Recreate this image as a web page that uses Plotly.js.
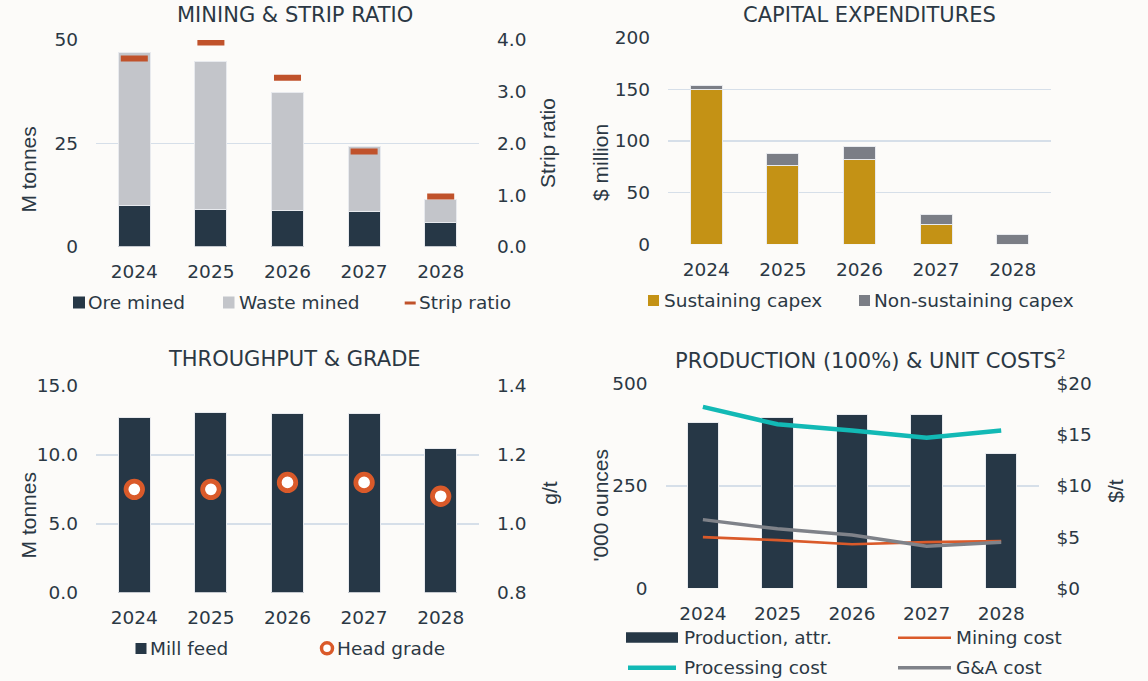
<!DOCTYPE html>
<html>
<head>
<meta charset="utf-8">
<script src="https://cdn.plot.ly/plotly-3.0.1.min.js"></script>
<style>html,body{margin:0;padding:0;background:#FCFBF9;}#chart{width:1148px;height:681px;}</style>
</head>
<body>
<div id="chart"></div>
<script>
// ---------- DATA ----------
const years = ['2024', '2025', '2026', '2027', '2028'];
const oreMined = [9.9, 9.0, 8.7, 8.5, 5.8];
const wasteMined = [37.0, 35.8, 28.6, 15.8, 5.7];
const stripRatio = [3.64, 3.95, 3.27, 1.84, 0.97];
const sustainingCapex = [150, 76.5, 82.3, 19, 0];
const nonSustainingCapex = [4.2, 11.5, 11.9, 10.3, 9.7];
const millFeed = [12.7, 13.1, 13.0, 13.0, 10.5];
const headGrade = [1.10, 1.10, 1.12, 1.12, 1.08];
const production = [405, 416, 423, 424, 328];
const miningCost = [5.0, 4.7, 4.3, 4.5, 4.6];
const processingCost = [17.7, 16.0, 15.4, 14.7, 15.4];
const gaCost = [6.7, 5.8, 5.2, 4.1, 4.5];

const chartTitles = ['MINING & STRIP RATIO', 'CAPITAL EXPENDITURES', 'THROUGHPUT & GRADE', 'PRODUCTION (100%) & UNIT COSTS<sup>2</sup>'];
const yTitles = ['M tonnes', 'Strip ratio', '$ million', 'M tonnes', 'g/t', "'000 ounces", '$/t'];

// ---------- STYLE ----------
const W = 1148, H = 681;
const X = v => v / W;
const Y = v => 1 - v / H;
const TXT = '#2B3844';
const GRID = '#D6DFE9';
const C_ORE = '#263746', C_WASTE = '#C3C5CA', C_STRIP = '#C0522B';
const C_SUST = '#C49215', C_NONS = '#7B7E86';
const C_TEAL = '#12B9B5', C_MINE = '#DA5A2A', C_GA = '#7F8289';
const FONT = 'DejaVu Sans, Liberation Sans, Arial, sans-serif';
const AFONT = 'Liberation Sans, Arial, sans-serif';
const tickfont = {family: FONT, size: 18.5, color: TXT};
const barLine = {width: 1, color: '#E8EAEE'};

const traces = [
  {type: 'bar', x: years, y: oreMined, xaxis: 'x', yaxis: 'y', marker: {color: C_ORE, line: barLine}, showlegend: false, name: 'Ore mined'},
  {type: 'bar', x: years, y: wasteMined, xaxis: 'x', yaxis: 'y', marker: {color: C_WASTE, line: barLine}, showlegend: false, name: 'Waste mined'},
  {type: 'scatter', mode: 'markers', x: years, y: stripRatio, xaxis: 'x', yaxis: 'y2', marker: {symbol: 'line-ew', size: 19.3, line: {width: 6, color: C_STRIP}}, showlegend: false, name: 'Strip ratio'},
  {type: 'bar', x: years, y: sustainingCapex, xaxis: 'x2', yaxis: 'y3', marker: {color: C_SUST, line: barLine}, showlegend: false, name: 'Sustaining capex'},
  {type: 'bar', x: years, y: nonSustainingCapex, xaxis: 'x2', yaxis: 'y3', marker: {color: C_NONS, line: barLine}, showlegend: false, name: 'Non-sustaining capex'},
  {type: 'bar', x: years, y: millFeed, xaxis: 'x3', yaxis: 'y4', marker: {color: C_ORE, line: barLine}, showlegend: false, name: 'Mill feed'},
  {type: 'scatter', mode: 'markers', x: years, y: headGrade, xaxis: 'x3', yaxis: 'y5', marker: {symbol: 'circle', size: 16.5, color: '#FFFFFF', line: {width: 4.8, color: C_MINE}}, showlegend: false, name: 'Head grade'},
  {type: 'bar', x: years, y: production, xaxis: 'x4', yaxis: 'y6', marker: {color: C_ORE, line: barLine}, showlegend: false, name: 'Production, attr.'},
  {type: 'scatter', mode: 'lines', x: years, y: miningCost, xaxis: 'x4', yaxis: 'y7', line: {color: C_MINE, width: 2.7}, showlegend: false, name: 'Mining cost'},
  {type: 'scatter', mode: 'lines', x: years, y: processingCost, xaxis: 'x4', yaxis: 'y7', line: {color: C_TEAL, width: 4.5}, showlegend: false, name: 'Processing cost'},
  {type: 'scatter', mode: 'lines', x: years, y: gaCost, xaxis: 'x4', yaxis: 'y7', line: {color: C_GA, width: 3.5}, showlegend: false, name: 'G&A cost'}
];

function xax(x0, x1, anchor) {
  return {domain: [X(x0), X(x1)], anchor: anchor, type: 'category', range: [-0.5, 4.5],
    showgrid: false, zeroline: false, showline: false, ticks: '', tickfont: tickfont, ticklabelstandoff: 12, fixedrange: true};
}
function yax(y0, y1, anchor, range, dtick, fmt, prefix) {
  return {domain: [Y(y1), Y(y0)], anchor: anchor, range: range, dtick: dtick, tick0: range[0], tickformat: fmt, tickprefix: prefix || '',
    showgrid: true, gridcolor: GRID, gridwidth: 1.6, zeroline: false, showline: false, ticks: '', tickfont: tickfont, ticklabelstandoff: 17, fixedrange: true};
}
function yaxR(overlay, anchor, range, dtick, fmt, prefix) {
  return {overlaying: overlay, anchor: anchor, side: 'right', range: range, dtick: dtick, tick0: range[0], tickformat: fmt, tickprefix: prefix || '',
    showgrid: false, zeroline: false, showline: false, ticks: '', tickfont: tickfont, ticklabelstandoff: 17, fixedrange: true};
}

const annotations = [];
function ann(text, x, y, opts) {
  annotations.push(Object.assign({text: text, x: X(x), y: Y(y), xref: 'paper', yref: 'paper', showarrow: false,
    xanchor: 'center', yanchor: 'middle', font: {family: FONT, size: 18.5, color: TXT}}, opts || {}));
}
// chart titles
const titleFont = {family: FONT, size: 21, color: TXT};
ann(chartTitles[0], 295, 14.5, {font: titleFont});
ann(chartTitles[1], 869.8, 14.5, {font: titleFont});
ann(chartTitles[2], 294.7, 358.5, {font: titleFont});
ann(chartTitles[3], 870.7, 358.5, {font: titleFont});
// axis titles
const axFont = {family: AFONT, size: 21, color: TXT};
ann(yTitles[0], 28.6, 170, {textangle: -90, font: axFont});
ann(yTitles[1], 547.6, 143.3, {textangle: -90, font: axFont});
ann(yTitles[2], 600.4, 162.5, {textangle: -90, font: axFont});
ann(yTitles[3], 28.6, 515.8, {textangle: -90, font: axFont});
ann(yTitles[4], 549.5, 493.3, {textangle: -90, font: axFont});
ann(yTitles[5], 599.6, 505, {textangle: -90, font: axFont});
ann(yTitles[6], 1116, 490.8, {textangle: -90, font: axFont});

// legends (swatch + label)
const shapes = [];
function rect(x0, y0, x1, y1, color) {
  shapes.push({type: 'rect', xref: 'paper', yref: 'paper', x0: X(x0), x1: X(x1), y0: Y(y1), y1: Y(y0), fillcolor: color, line: {width: 0}});
}
function legText(text, x, y) { ann(text, x, y, {xanchor: 'left'}); }
// top-left
rect(73, 296.5, 85, 308.5, C_ORE); legText(traces[0].name, 86, 302);
rect(223, 296.5, 234.5, 308.5, C_WASTE); legText(traces[1].name, 236.5, 302);
rect(404.7, 301.5, 415.7, 304.5, C_STRIP); legText(traces[2].name, 417, 302);
// top-right
rect(648, 295, 659, 306, C_SUST); legText(traces[3].name, 661.5, 300.5);
rect(859, 295, 870, 306, C_NONS); legText(traces[4].name, 872, 300.5);
// bottom-left
rect(135.5, 643, 146.5, 654, C_ORE); legText(traces[5].name, 148, 648.5);
shapes.push({type: 'circle', xref: 'paper', yref: 'paper', x0: X(321.5), x1: X(332.5), y0: Y(653.8), y1: Y(642.8), fillcolor: '#FFFFFF', line: {width: 3.5, color: C_MINE}});
legText(traces[6].name, 335, 648.5);
// bottom-right
rect(626, 632.3, 678, 642.7, C_ORE); legText(traces[7].name, 681.5, 637.5);
rect(898, 636.4, 951, 639, C_MINE); legText(traces[8].name, 953.5, 637.5);
shapes.push({type: 'line', xref: 'paper', yref: 'paper', x0: X(628), x1: X(676), y0: Y(667.7), y1: Y(667.7), line: {width: 4.5, color: C_TEAL}});
legText(traces[9].name, 681.5, 667.5);
rect(898, 665.9, 951, 669.5, C_GA); legText(traces[10].name, 953.5, 667.5);

const layout = {
  width: W, height: H, autosize: false,
  margin: {l: 0, r: 0, t: 0, b: 0, pad: 0},
  paper_bgcolor: '#FCFBF9', plot_bgcolor: 'rgba(0,0,0,0)',
  barmode: 'stack', bargap: 0.58,
  showlegend: false,
  font: {family: FONT, color: TXT},
  xaxis: xax(96, 479, 'y'),
  yaxis: yax(40, 246.7, 'x', [0, 50], 25, 'd'),
  yaxis2: yaxR('y', 'x', [0, 4], 1, '.1f'),
  xaxis2: xax(668, 1051, 'y3'),
  yaxis3: yax(37.7, 244.3, 'x2', [0, 200], 50, 'd'),
  xaxis3: xax(96, 479, 'y4'),
  yaxis4: yax(386, 592.7, 'x3', [0, 15], 5, '.1f'),
  yaxis5: yaxR('y4', 'x3', [0.8, 1.4], 0.2, '.1f'),
  xaxis4: xax(665.6, 1038.5, 'y6'),
  yaxis6: yax(383.3, 588.3, 'x4', [0, 500], 250, 'd'),
  yaxis7: yaxR('y6', 'x4', [0, 20], 5, 'd', '$'),
  annotations: annotations,
  shapes: shapes
};

Plotly.newPlot('chart', traces, layout, {displayModeBar: false, staticPlot: true});
</script>
</body>
</html>
